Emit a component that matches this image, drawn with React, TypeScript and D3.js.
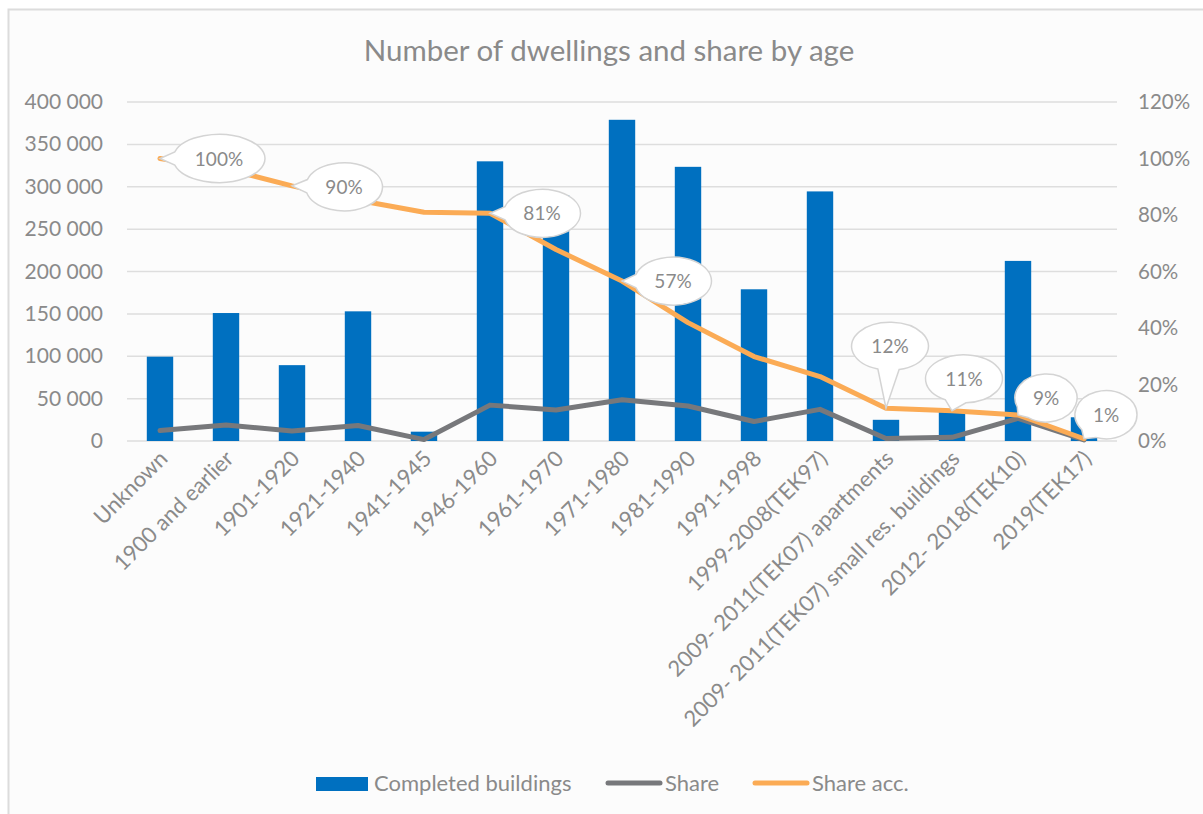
import React from "react";
import * as d3 from "d3";

const categories = [
  "Unknown",
  "1900 and earlier",
  "1901-1920",
  "1921-1940",
  "1941-1945",
  "1946-1960",
  "1961-1970",
  "1971-1980",
  "1981-1990",
  "1991-1998",
  "1999-2008(TEK97)",
  "2009- 2011(TEK07) apartments",
  "2009- 2011(TEK07) small res. buildings",
  "2012- 2018(TEK10)",
  "2019(TEK17)",
];
const completedBuildings = [99500, 151000, 89500, 153000, 11000, 330000, 290000, 379000, 323500, 179000, 294500, 25000, 36000, 212500, 28000];
const share = [3.7, 5.7, 3.5, 5.5, 0.5, 12.7, 11.0, 14.6, 12.4, 6.9, 11.2, 0.9, 1.3, 8.0, 0.4];
const shareAcc = [100, 96.3, 90.3, 85.2, 81.0, 80.6, 67.8, 56.6, 41.9, 29.9, 22.8, 11.6, 10.7, 9.2, 0.8];
const leftTicks = [0, 50000, 100000, 150000, 200000, 250000, 300000, 350000, 400000];
const rightTicks = [0, 20, 40, 60, 80, 100, 120];
const labelIndices = [0, 2, 5, 7, 11, 12, 13, 14];
// callout placement relative to its point (layout only)
const labelOffsets = [
  [59, 0], [52, 1], [52, 0], [51, 0], [4, -62], [12, -32], [28, -17], [22, -24],
];

const FONT = "Lato, 'Noto Sans', sans-serif";
const TXT = "#8a8a8a";
const BLUE = "#0070c0";
const GRAY = "#77787b";
const ORANGE = "#fbab55";

const W = 1203, H = 814;
const PL = 127, PR = 1117, PT = 102, PB = 441;

function fmt(v: number) {
  return d3.format(",")(v).replace(/,/g, " ");
}

export default function App() {
  const x = d3.scaleBand<string>().domain(categories).range([PL, PR]).paddingInner(0.6).paddingOuter(0.3);
  const xc = (i: number) => (x(categories[i]) as number) + x.bandwidth() / 2;
  const yL = d3.scaleLinear().domain([0, 400000]).range([PB, PT]);
  const yR = d3.scaleLinear().domain([0, 120]).range([PB, PT]);
  const line = d3.line<number>().x((_, i) => xc(i)).y((d) => yR(d));

  const callout = (tx: number, ty: number, cx: number, cy: number, rx: number, ry: number) => {
    const th = Math.atan2((ty - cy) / ry, (tx - cx) / rx);
    const dl = 0.28;
    const ax = cx + rx * Math.cos(th + dl), ay = cy + ry * Math.sin(th + dl);
    const bx = cx + rx * Math.cos(th - dl), by = cy + ry * Math.sin(th - dl);
    return `M${ax},${ay} A${rx},${ry} 0 1 1 ${bx},${by} L${tx},${ty} Z`;
  };

  return (
    <svg width={W} height={H} style={{ position: "absolute", left: 0, top: 0 }} fontFamily={FONT}>
      <rect x={0} y={0} width={W} height={H} fill="#ffffff" />
      <rect x={8.5} y={9.5} width={W + 10} height={H + 10} fill="#fcfcfc" stroke="#dcdcdc" strokeWidth={2} />
      <text x={609} y={61} textAnchor="middle" fontSize={29.5} fill={TXT}>
        Number of dwellings and share by age
      </text>
      {leftTicks.map((t) => (
        <g key={"g" + t}>
          <line x1={PL} x2={PR} y1={yL(t)} y2={yL(t)} stroke="#dedede" strokeWidth={1.5} />
          <text x={103} y={yL(t) + 7} textAnchor="end" fontSize={21} fill={TXT}>
            {fmt(t)}
          </text>
        </g>
      ))}
      {rightTicks.map((t) => (
        <text key={"r" + t} x={1138} y={yR(t) + 7} textAnchor="start" fontSize={20.5} fill={TXT}>
          {t}%
        </text>
      ))}
      {completedBuildings.map((v, i) => (
        <rect key={"b" + i} x={x(categories[i])} y={yL(v)} width={x.bandwidth()} height={PB - yL(v)} fill={BLUE} />
      ))}
      <path d={line(share) || ""} fill="none" stroke={GRAY} strokeWidth={5} strokeLinejoin="round" strokeLinecap="round" />
      <path d={line(shareAcc) || ""} fill="none" stroke={ORANGE} strokeWidth={5} strokeLinejoin="round" strokeLinecap="round" />
      {labelIndices.map((idx, k) => {
        const tx = xc(idx), ty = yR(shareAcc[idx]);
        const cx = tx + labelOffsets[k][0], cy = ty + labelOffsets[k][1];
        const lbl = Math.round(shareAcc[idx]) + "%";
        const rx = 16 + 7.5 * lbl.length, ry = 24;
        return (
          <g key={"l" + idx}>
            <path d={callout(tx, ty, cx, cy, rx, ry)} fill="#ffffff" stroke="#d4d4d4" strokeWidth={1.5} />
            <text x={cx} y={cy + 7} textAnchor="middle" fontSize={19} fill={TXT}>
              {lbl}
            </text>
          </g>
        );
      })}
      {categories.map((c, i) => (
        <text
          key={"c" + i}
          transform={`translate(${xc(i) + 9},${PB + 19}) rotate(-45)`}
          textAnchor="end"
          fontSize={22}
          fill={TXT}
        >
          {c}
        </text>
      ))}
      <rect x={316} y={777} width={52} height={14} fill={BLUE} />
      <text x={374} y={791} fontSize={22} fill={TXT}>Completed buildings</text>
      <line x1={608} x2={660} y1={783} y2={783} stroke={GRAY} strokeWidth={5} strokeLinecap="round" />
      <text x={665} y={791} fontSize={22} fill={TXT}>Share</text>
      <line x1={755} x2={807} y1={783} y2={783} stroke={ORANGE} strokeWidth={5} strokeLinecap="round" />
      <text x={812} y={791} fontSize={22} fill={TXT}>Share acc.</text>
    </svg>
  );
}
